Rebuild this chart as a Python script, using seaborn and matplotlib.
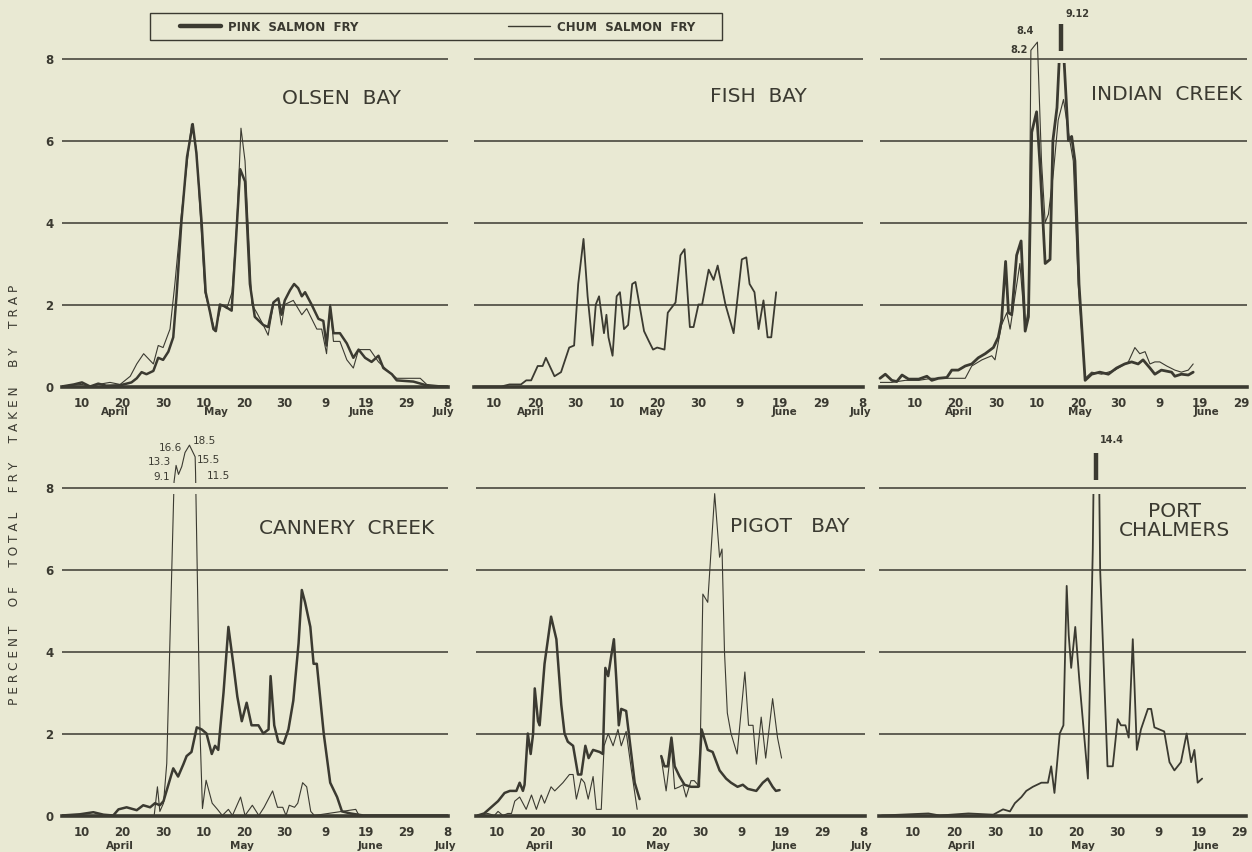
import numpy as np
import pandas as pd
import seaborn as sns
import matplotlib
matplotlib.use("Agg")
import matplotlib.pyplot as plt
from matplotlib.patches import Rectangle
from matplotlib.lines import Line2D

# ---------------- data (day of year, percent of total fry) ----------------
olsen_pink = [(95,0),(98,0.05),(100,0.1),(102,0.0),(104,0.07),(106,0.02),(109.4,0.03),(112.2,0.1),
    (113.5,0.2),(114.7,0.35),(115.9,0.3),(117.6,0.38),(118.8,0.7),(120,0.65),(121.3,0.85),(122.5,1.2),
    (123.3,2.2),(124.5,4.0),(125.9,5.6),(127.3,6.4),(128.2,5.7),(129.5,4.0),(130.5,2.3),(131.6,1.8),
    (132.4,1.4),(133.0,1.35),(134,2.0),(135.3,1.95),(136.9,1.85),(137.8,3.3),(139,5.3),(140.2,5.0),
    (141.4,2.5),(142.6,1.7),(144.7,1.5),(145.9,1.45),(147.2,2.05),(148.4,2.15),(149.2,1.75),(150,2.1),
    (151.3,2.35),(152.3,2.5),(153.3,2.4),(154.2,2.2),(155,2.3),(156.6,2.0),(158.3,1.65),(159.5,1.6),
    (160.3,1.0),(161.2,1.95),(162,1.3),(163.6,1.3),(165.3,1.05),(166.9,0.7),(168.2,0.9),(169.8,0.7),
    (171.4,0.6),(173.1,0.75),(174.3,0.45),(176.4,0.3),(177.6,0.15),(181.7,0.12),(184.2,0.05),(185.8,0.0),
    (190.3,0.0)]
olsen_chum = [(95,0),(97,0.03),(100,0.05),(102,0.0),(104,0.05),(106.9,0.1),(109.4,0.05),(111.9,0.25),
    (113.5,0.55),(115.2,0.8),(117.6,0.55),(118.8,1.0),(120,0.95),(121.7,1.4),(122.9,2.5),(124.5,4.2),
    (127.0,6.4),(128.2,5.8),(130.3,2.3),(131.6,1.8),(132.8,1.35),(134.4,2.0),(135.7,1.9),(137,2.3),
    (138.2,4.0),(139.2,6.3),(140.2,5.5),(141.9,2.0),(143.1,1.8),(144.7,1.5),(145.9,1.25),(147.2,2.0),
    (148.4,2.0),(149.2,1.5),(150,2.0),(152.1,2.1),(154.2,1.75),(155.4,1.9),(157.9,1.4),(159.1,1.4),
    (160.3,0.8),(161.2,2.0),(162,1.1),(163.6,1.1),(165.3,0.65),(166.9,0.45),(168.2,0.9),(171,0.9),
    (173.1,0.6),(175.2,0.4),(177.6,0.2),(183.4,0.2),(185,0.05),(190.3,0)]
fish_pink = [(95,0),(101.8,0),(103.8,0.05),(106.6,0.05),(107.9,0.15),(109.1,0.15),(110.7,0.5),
    (111.9,0.5),(112.7,0.7),(114.8,0.25),(116.4,0.35),(118.4,0.95),(119.6,1.0),(120.6,2.5),(121.9,3.6),
    (122.9,2.2),(124.1,1.0),(124.9,2.0),(125.7,2.2),(126.9,1.3),(127.5,1.75),(128,1.2),(129,0.75),
    (130,2.2),(130.8,2.3),(131.8,1.4),(132.8,1.5),(133.8,2.5),(134.6,2.55),(136.7,1.35),(137.9,1.1),
    (138.9,0.9),(139.9,0.95),(141.7,0.9),(142.5,1.8),(144.4,2.05),(145.6,3.2),(146.6,3.35),(147.9,1.45),
    (148.8,1.45),(150,2.0),(150.9,2.0),(152.5,2.85),(153.7,2.6),(154.7,2.95),(156.6,2.0),(158.6,1.3),
    (160.6,3.1),(161.7,3.15),(162.5,2.5),(163.7,2.3),(164.7,1.4),(165.9,2.1),(166.9,1.2),(167.8,1.2),
    (169,2.3)]
indian_pink = [(91.5,0.2),(92.8,0.3),(94.4,0.15),(95.6,0.12),(96.9,0.28),(98.5,0.18),(101,0.18),
    (103,0.25),(104.2,0.15),(105.8,0.2),(107.9,0.22),(109.1,0.4),(110.7,0.4),(112.4,0.5),(114,0.55),
    (115.6,0.7),(117.3,0.8),(119.3,0.95),(120.5,1.2),(121.3,1.6),(122.3,3.05),(123,1.8),(123.8,1.75),
    (125,3.2),(126.1,3.55),(127.1,1.35),(127.9,1.7),(128.7,6.2),(129.9,6.7),(130.8,5.3),(132,3.0),
    (133.2,3.1),(133.9,6.0),(134.9,6.8),(136.0,9.12),(137.7,6.0),(138.5,6.1),(139.3,5.5),(140.3,2.5),
    (141.8,0.15),(143.4,0.3),(145.4,0.35),(147.5,0.3),(149.5,0.45),(151.5,0.55),(153.2,0.6),(154.8,0.55),
    (156,0.65),(157.7,0.45),(158.9,0.3),(160.5,0.4),(163,0.35),(163.8,0.25),(165.4,0.3),(167.1,0.28),
    (168.3,0.35)]
indian_chum = [(91.5,0.1),(94.4,0.1),(97.7,0.15),(101,0.15),(104.2,0.2),(107.5,0.2),(109.9,0.2),
    (112.4,0.2),(114,0.5),(116.5,0.65),(118.9,0.75),(119.7,0.65),(121.3,1.5),(122.6,1.8),(123.4,1.4),
    (124.6,2.2),(125.8,3.0),(127.1,1.4),(128,2.0),(128.5,8.2),(130.1,8.4),(131.1,5.5),(132,4.0),
    (132.8,4.2),(134,5.2),(135.2,6.5),(136.5,7.0),(137.7,6.2),(138.9,5.5),(140.1,2.5),(141.8,0.2),
    (143.4,0.35),(145.8,0.3),(149.1,0.4),(152.4,0.6),(154,0.95),(155.2,0.8),(156.5,0.85),(157.7,0.55),
    (158.9,0.6),(160.1,0.6),(161.8,0.5),(163.8,0.4),(165.4,0.35),(167.1,0.4),(168.3,0.55)]
cannery_pink = [(95,0),(99.5,0.03),(102.8,0.08),(105.3,0.02),(107.7,0.0),(109,0.15),(111,0.2),
    (113.5,0.13),(115.1,0.25),(116.8,0.2),(118,0.3),(119.2,0.25),(120.1,0.35),(121.3,0.75),(122.5,1.15),
    (123.7,0.95),(125,1.25),(125.8,1.45),(127,1.55),(128.3,2.15),(129.5,2.1),(130.7,2.0),(132,1.5),
    (132.8,1.7),(133.6,1.6),(134.9,3.0),(136.1,4.6),(137.3,3.7),(138.3,2.9),(139.4,2.3),(140.6,2.75),
    (141.8,2.2),(143.5,2.2),(144.7,2.0),(146,2.1),(146.5,3.4),(147.4,2.2),(148.4,1.8),(149.7,1.75),
    (150.9,2.1),(152.1,2.8),(153.4,4.2),(154.2,5.5),(155,5.2),(156.3,4.6),(157.1,3.7),(157.9,3.7),
    (159.6,2.0),(161.2,0.8),(162.9,0.45),(164.1,0.1),(166.2,0.05),(169.4,0.0),(190.3,0.0)]
cannery_chum = [(95,0),(117.8,0),(118.6,0.7),(119.2,0.1),(120.1,0.3),(120.9,1.27),(122.7,9.1),
    (123.2,13.3),(123.8,11.0),(124.6,13.0),(125.4,16.6),(126.5,18.5),(127.9,15.5),(128.0,11.5),
    (129.1,2.05),(129.7,0.17),(130.6,0.86),(132.1,0.3),(133.4,0.15),(134.6,0.0),(136.1,0.15),(137.1,0.0),
    (139.1,0.45),(140.2,0.0),(142,0.25),(143.6,0.0),(144.9,0.2),(147,0.6),(148.2,0.2),(149.5,0.2),
    (150.3,0.0),(151.1,0.25),(152.4,0.2),(153.2,0.3),(154.4,0.8),(155.4,0.7),(156.4,0.1),(157.3,0.0),
    (167.5,0.15),(168.3,0.0),(190.3,0.0)]
pigot_pink_a = [(95.4,0),(97,0.05),(98.7,0.2),(100.4,0.35),(102,0.55),(103.3,0.6),(104.9,0.6),
    (105.7,0.8),(106.5,0.6),(106.9,0.75),(107.7,2.0),(108.4,1.5),(109,2.0),(109.4,3.1),(110.2,2.3),
    (110.6,2.2),(111.8,3.7),(113.4,4.85),(114.7,4.3),(115.9,2.7),(116.7,2.0),(117.5,1.8),(118.8,1.7),
    (120,1.0),(120.8,1.0),(121.8,1.7),(122.6,1.4),(123.7,1.6),(125.3,1.55),(126.1,1.5),(126.7,3.6),
    (127.4,3.4),(128,3.8),(128.8,4.3),(129.4,3.3),(130,2.2),(130.6,2.6),(131.8,2.55),(132.7,1.8),
    (133.9,0.8),(135.1,0.4)]
pigot_pink_b = [(140.4,1.45),(141.2,1.2),(142,1.2),(142.9,1.9),(143.7,1.2),(144.9,0.95),(146.1,0.75),
    (147.7,0.7),(149.5,0.7),(150.3,2.1),(151.8,1.6),(153,1.55),(154.7,1.1),(156.3,0.9),(157.5,0.8),
    (159.1,0.7),(160.4,0.75),(161.6,0.65),(163.7,0.6),(165.3,0.8),(166.5,0.9),(167.7,0.7),(168.5,0.6),
    (169.4,0.62)]
pigot_chum_a = [(95.4,0),(97.9,0.05),(99.5,0.0),(100.4,0.1),(101.6,0.0),(102.8,0.05),(103.7,0.05),
    (104.5,0.35),(105.7,0.45),(107.3,0.15),(108.6,0.5),(109.8,0.15),(111,0.5),(111.8,0.3),(113.4,0.7),
    (114.3,0.6),(116.3,0.8),(117.9,1.0),(118.8,1.0),(119.6,0.4),(120.8,0.9),(121.6,0.8),(122.5,0.4),
    (123.7,0.95),(124.5,0.15),(125.7,0.15),(126.4,1.7),(127.4,2.0),(128.6,1.7),(129.8,2.1),(130.6,1.7),
    (131.8,2.05),(133.1,1.1),(134.5,0.15)]
pigot_chum_b = [(140.4,1.4),(141.6,0.6),(142.9,1.7),(143.7,0.65),(144.9,0.7),(145.7,0.75),(146.5,0.45),
    (147.7,0.85),(148.5,0.85),(149.8,0.7),(150.6,5.4),(151.8,5.2),(153.5,7.85),(154.7,6.3),(155.3,6.5),
    (155.9,4.0),(156.6,2.5),(157.5,2.0),(159,1.5),(160.9,3.5),(161.8,2.2),(162.9,2.2),(163.7,1.25),
    (164.9,2.4),(166,1.4),(167.7,2.85),(168.9,1.9),(169.9,1.4)]
chalmers_pink = [(92.3,0),(103.7,0.05),(106.5,0.0),(113.5,0.05),(119.6,0.02),(122,0.15),(123.7,0.1),
    (124.9,0.3),(126.5,0.45),(127.7,0.6),(129.3,0.7),(131.4,0.8),(133,0.8),(133.8,1.2),(134.6,0.55),
    (135.9,2.0),(136.8,2.2),(137.6,5.6),(138.1,4.4),(138.7,3.6),(139.7,4.6),(140.7,3.3),(142.8,0.9),
    (144.0,6.5),(144.9,14.4),(145.8,6.0),(147.6,1.2),(148.9,1.2),(150.1,2.35),(150.9,2.2),(152,2.2),
    (152.8,1.9),(153.8,4.3),(154.8,1.6),(155.8,2.1),(157.5,2.6),(158.3,2.6),(159.1,2.15),(160.3,2.1),
    (161.5,2.05),(162.8,1.3),(164,1.1),(165.6,1.3),(167,2.0),(168.1,1.3),(168.9,1.6),(169.7,0.8),
    (170.8,0.9)]

ticks_long = [100, 110, 120, 130, 140, 150, 160, 170, 180, 190]
ticklabels_long = ["10", "20", "30", "10", "20", "30", "9", "19", "29", "8"]
ticks_short = ticks_long[:-1]
ticklabels_short = ticklabels_long[:-1]
months_long = ["April", "May", "June", "July"]
months_short = ["April", "May", "June"]
y_ticks = [0, 2, 4, 6, 8]
series_labels = ["PINK  SALMON  FRY", "CHUM  SALMON  FRY"]

# ---------------- style ----------------
BG = "#e9e9d3"
INK = "#3b3a31"
sns.set_theme(style="white", rc={"figure.facecolor": BG, "axes.facecolor": "none",
                                 "text.color": INK, "xtick.color": INK, "ytick.color": INK})
plt.rcParams["font.family"] = ["DejaVu Sans"]

W, H = 1252, 853
fig = plt.figure(figsize=(W / 100, H / 100), dpi=100)
fig.patch.set_facecolor(BG)

PX_UNIT = 41.0
YMAX = 9.4


def make_ax(left_px, zero_px, xlim, px_day):
    width = (xlim[1] - xlim[0]) * px_day
    height = YMAX * PX_UNIT
    ax = fig.add_axes([left_px / W, (H - zero_px) / H, width / W, height / H])
    ax.set_xlim(*xlim)
    ax.set_ylim(0, YMAX)
    return ax


def draw(ax, pairs, lw, clip=None, transform=None):
    df = pd.DataFrame(pairs, columns=["day", "pct"])
    if transform is not None:
        df["pct"] = df["pct"].map(transform)
    sns.lineplot(data=df, x="day", y="pct", ax=ax, color=INK, lw=lw,
                 estimator=None, sort=False)
    line = ax.lines[-1]
    line.set_solid_joinstyle("round")
    if clip is not None:
        rect = Rectangle((0, clip[0]), 400, clip[1] - clip[0], transform=ax.transData)
        line.set_clip_path(rect)
    return line


def style(ax, ticks, labels, month_days, months, show_y, month_off):
    ax.set_xlabel("")
    ax.set_ylabel("")
    for s in ["left", "right", "top"]:
        ax.spines[s].set_visible(False)
    ax.spines["bottom"].set_linewidth(2.6)
    ax.spines["bottom"].set_color(INK)
    ax.set_xticks(ticks)
    ax.set_xticklabels(labels, fontsize=8.5, fontweight="bold")
    ax.tick_params(axis="x", direction="inout", length=7, width=1.2, pad=3, colors=INK)
    ax.set_yticks(y_ticks)
    ax.tick_params(axis="y", length=0, pad=6)
    if show_y:
        ax.set_yticklabels([str(v) for v in y_ticks], fontsize=8.5, fontweight="bold")
    else:
        ax.set_yticklabels([])
    ax.grid(axis="y", color=INK, lw=1.1)
    ax.grid(axis="x", visible=False)
    for d, m in zip(month_days, months):
        ax.annotate(m, xy=(d, 0), xycoords=("data", "axes fraction"), xytext=(0, -month_off),
                    textcoords="offset pixels", ha="center", va="center",
                    fontsize=7.5, fontweight="bold", color=INK)


def stub(ax, pairs, dx_label, y_label):
    day, val = max(pairs, key=lambda p: p[1])
    ax.vlines(day, 8.18, 8.85, color=INK, lw=3.2)
    ax.text(day + dx_label, y_label, f"{val:g}", fontsize=7, fontweight="bold",
            ha="left", va="center", color=INK)


TOP0, BOT0 = 387.5, 816.5
LW_PINK, LW_CHUM, LW_MID = 1.8, 0.8, 1.3
TITLE_FS = 14.5

# ----- Olsen Bay -----
ax = make_ax(61.7, TOP0, (95, 190.3), 4.056)
draw(ax, olsen_chum, LW_CHUM)
draw(ax, olsen_pink, LW_PINK)
style(ax, ticks_long, ticklabels_long, [108, 133, 169, 189], months_long, True, 25)
fig.text(341 / W, 1 - 99 / H, "OLSEN  BAY", fontsize=TITLE_FS, ha="center", va="center", color=INK)

# ----- Fish Bay -----
ax = make_ax(473.5, TOP0, (95, 190.3), 4.09)
draw(ax, fish_pink, LW_MID)
style(ax, ticks_long, ticklabels_long, [109, 138.5, 171, 189.5], months_long, False, 25)
fig.text(758 / W, 1 - 97 / H, "FISH  BAY", fontsize=TITLE_FS, ha="center", va="center", color=INK)

# ----- Indian Creek -----
ax = make_ax(880, TOP0, (91.5, 181.5), 4.078)
draw(ax, indian_chum, LW_CHUM)
draw(ax, indian_pink, LW_PINK + 0.2, clip=(-1, 7.9))
stub(ax, indian_pink, 1.0, 9.1)
chum_peaks = sorted(indian_chum, key=lambda p: p[1])[-2:]
for (d, v), dx, dy in zip(sorted(chum_peaks), [-0.7, -0.9], [0.02, 0.3]):
    ax.text(d + dx, v + dy, f"{v:g}", fontsize=7, fontweight="bold", ha="right",
            va="center", color=INK)
style(ax, ticks_short, ticklabels_short, [110.8, 140.5, 171.5], months_short, False, 25)
fig.text(1167 / W, 1 - 95 / H, "INDIAN  CREEK", fontsize=TITLE_FS, ha="center", va="center", color=INK)

# ----- Cannery Creek -----
ax = make_ax(61.7, BOT0, (95, 190.3), 4.056)


def compress(v):
    return v if v <= 8 else 8.14 + (v - 9.1) * 0.095


draw(ax, cannery_chum, LW_CHUM, clip=(-1, 7.85), transform=compress)
draw(ax, cannery_chum, LW_CHUM, clip=(8.12, 9.4), transform=compress)
draw(ax, cannery_pink, LW_PINK)
label_place = {9.1: (-1.0, 8.27, "right"), 13.3: (-1.3, 8.65, "right"), 16.6: (-0.8, 8.98, "right"),
               18.5: (0.9, 9.17, "left"), 15.5: (0.4, 8.7, "left"), 11.5: (2.7, 8.3, "left")}
for d, v in cannery_chum:
    if v in label_place:
        dx, yy, ha = label_place[v]
        ax.text(d + dx, yy, f"{v:g}", fontsize=7.5, ha=ha, va="center", color=INK)
style(ax, ticks_long, ticklabels_long, [109.4, 139.4, 171, 189.5], months_long, True, 30)
fig.text(347 / W, 1 - 528 / H, "CANNERY  CREEK", fontsize=TITLE_FS, ha="center", va="center", color=INK)

# ----- Pigot Bay -----
ax = make_ax(476, BOT0, (95, 190.3), 4.08)
draw(ax, pigot_chum_a, LW_CHUM)
draw(ax, pigot_chum_b, LW_CHUM)
draw(ax, pigot_pink_a, LW_PINK)
draw(ax, pigot_pink_b, LW_PINK)
style(ax, ticks_long, ticklabels_long, [110.6, 139.6, 170.7, 189.5], months_long, False, 30)
fig.text(790 / W, 1 - 527 / H, "PIGOT   BAY", fontsize=TITLE_FS, ha="center", va="center", color=INK)

# ----- Port Chalmers -----
ax = make_ax(878.6, BOT0, (91.5, 181.5), 4.08)
draw(ax, chalmers_pink, LW_MID, clip=(-1, 7.85))
stub(ax, chalmers_pink, 0.9, 9.18)
style(ax, ticks_short, ticklabels_short, [111.8, 141.6, 171.9], months_short, False, 30)
fig.text(1174 / W, 1 - 521 / H, "PORT\nCHALMERS", fontsize=TITLE_FS, ha="center", va="center",
         color=INK, linespacing=1.05)

# ----- legend -----
handles = [Line2D([], [], color=INK, lw=3.2), Line2D([], [], color=INK, lw=1.0)]
fig.legend(handles, series_labels, loc="center", ncol=2, mode="expand", frameon=False,
           bbox_to_anchor=(180 / W, 1 - 41 / H, (695 - 180) / W, 27 / H),
           handlelength=3.5, handletextpad=0.6, borderaxespad=0, borderpad=0,
           prop=dict(size=8.5, weight="bold"), labelcolor=INK)
fig.add_artist(Rectangle((150 / W, 1 - 41 / H), 572 / W, 27 / H, transform=fig.transFigure,
                         fill=False, ec=INK, lw=1.0))

# ----- y label -----
words = "PERCENT OF TOTAL FRY TAKEN BY TRAP".split()
ylab = "     ".join(" ".join(w) for w in words)
fig.text(15 / W, 1 - 495 / H, ylab, rotation=90, fontsize=8.7, ha="center", va="center", color=INK)

fig.savefig("out.png", dpi=100, facecolor=BG)
